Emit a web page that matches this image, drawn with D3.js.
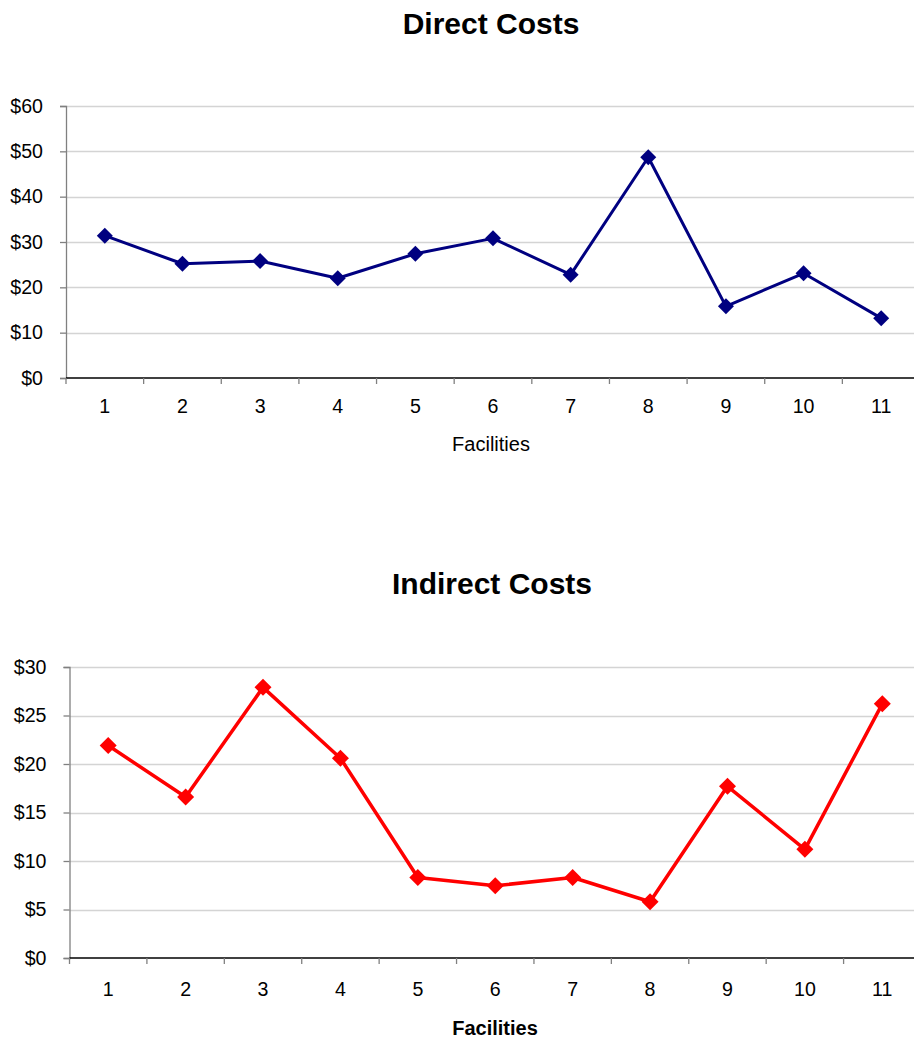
<!DOCTYPE html>
<html>
<head>
<meta charset="utf-8">
<script src="https://cdn.jsdelivr.net/npm/d3@7"></script>
<style>
  html, body { margin: 0; padding: 0; background: #fff; }
  svg { display: block; font-family: "Liberation Sans", Arial, sans-serif; }
</style>
</head>
<body>
<svg id="chart" width="914" height="1039"></svg>
<script>
// Facility numbers along the x axis
const facilities = [1, 2, 3, 4, 5, 6, 7, 8, 9, 10, 11];

// Cost per facility, in dollars
const directCosts   = [31.4, 25.2, 25.8, 22.0, 27.4, 30.8, 22.8, 48.7, 15.8, 23.1, 13.2];
const indirectCosts = [21.9, 16.6, 27.9, 20.6, 8.3, 7.45, 8.3, 5.8, 17.7, 11.2, 26.2];

// Y tick values for each chart
const directTicks   = [0, 10, 20, 30, 40, 50, 60];
const indirectTicks = [0, 5, 10, 15, 20, 25, 30];

const svg = d3.select("#chart");

function drawPanel(cfg) {
  const g = svg.append("g");
  const x = d3.scaleBand().domain(facilities).range([cfg.left, cfg.right]);
  const y = d3.scaleLinear().domain([0, d3.max(cfg.ticks)]).range([cfg.bottom, cfg.top]);

  // title
  g.append("text")
    .attr("x", cfg.titleX).attr("y", cfg.titleY)
    .attr("text-anchor", "middle")
    .attr("font-size", 30).attr("font-weight", "bold")
    .attr("fill", "#000")
    .text(cfg.title);

  // horizontal gridlines
  g.append("g").selectAll("line")
    .data(cfg.ticks.filter(d => d > 0))
    .join("line")
    .attr("x1", cfg.left).attr("x2", cfg.right)
    .attr("y1", d => Math.round(y(d)) + 0.5).attr("y2", d => Math.round(y(d)) + 0.5)
    .attr("stroke", "#d4d4d4").attr("stroke-width", 1.3);

  // y axis
  const yAxis = g.append("g")
    .attr("transform", `translate(${cfg.left},0)`)
    .call(d3.axisLeft(y).tickValues(cfg.ticks).tickSize(6).tickPadding(17)
      .tickFormat(d => "$" + d));
  yAxis.select(".domain").attr("stroke", "#808080").attr("stroke-width", 1.3);
  yAxis.selectAll(".tick line").attr("stroke", "#808080").attr("stroke-width", 1.3);
  yAxis.selectAll(".tick text")
    .attr("font-size", 19.6).attr("fill", "#000")
    .attr("font-family", "Liberation Sans, Arial, sans-serif");

  // x axis: baseline, boundary ticks and centred labels
  const xBase = y(0);
  g.append("line")
    .attr("x1", cfg.left).attr("x2", cfg.right)
    .attr("y1", xBase).attr("y2", xBase)
    .attr("stroke", "#000").attr("stroke-width", 1.5);
  g.append("g").selectAll("line")
    .data(facilities)
    .join("line")
    .attr("x1", d => x(d)).attr("x2", d => x(d))
    .attr("y1", xBase).attr("y2", xBase + 6)
    .attr("stroke", "#808080").attr("stroke-width", 1.3);
  g.append("g").selectAll("text")
    .data(facilities)
    .join("text")
    .attr("x", d => x(d) + x.bandwidth() / 2)
    .attr("y", cfg.tickLabelY)
    .attr("text-anchor", "middle")
    .attr("font-size", 19.6).attr("fill", "#000")
    .text(d => d);

  // x axis title
  g.append("text")
    .attr("x", cfg.axisTitleX).attr("y", cfg.axisTitleY)
    .attr("text-anchor", "middle")
    .attr("font-size", 20)
    .attr("font-weight", cfg.axisTitleBold ? "bold" : "normal")
    .attr("fill", "#000")
    .text("Facilities");

  // series line
  const pts = facilities.map((f, i) => [x(f) + x.bandwidth() / 2, y(cfg.values[i])]);
  g.append("path")
    .attr("d", d3.line()(pts))
    .attr("fill", "none")
    .attr("stroke", cfg.color)
    .attr("stroke-width", cfg.lineWidth)
    .attr("stroke-linejoin", "round");

  // diamond markers
  const r = cfg.markerR;
  g.append("g").selectAll("path")
    .data(pts)
    .join("path")
    .attr("d", d => `M${d[0]},${d[1] - r}L${d[0] + r},${d[1]}L${d[0]},${d[1] + r}L${d[0] - r},${d[1]}Z`)
    .attr("fill", cfg.color);
}

drawPanel({
  title: "Direct Costs", titleX: 491, titleY: 34,
  values: directCosts, ticks: directTicks,
  left: 66, right: 920, top: 106, bottom: 378,
  tickLabelY: 413, axisTitleX: 491, axisTitleY: 451, axisTitleBold: false,
  color: "#000080", lineWidth: 3, markerR: 8
});

drawPanel({
  title: "Indirect Costs", titleX: 492, titleY: 594,
  values: indirectCosts, ticks: indirectTicks,
  left: 69.5, right: 921, top: 667, bottom: 958,
  tickLabelY: 996, axisTitleX: 495, axisTitleY: 1035, axisTitleBold: true,
  color: "#FF0000", lineWidth: 3.5, markerR: 8.5
});
</script>
</body>
</html>
